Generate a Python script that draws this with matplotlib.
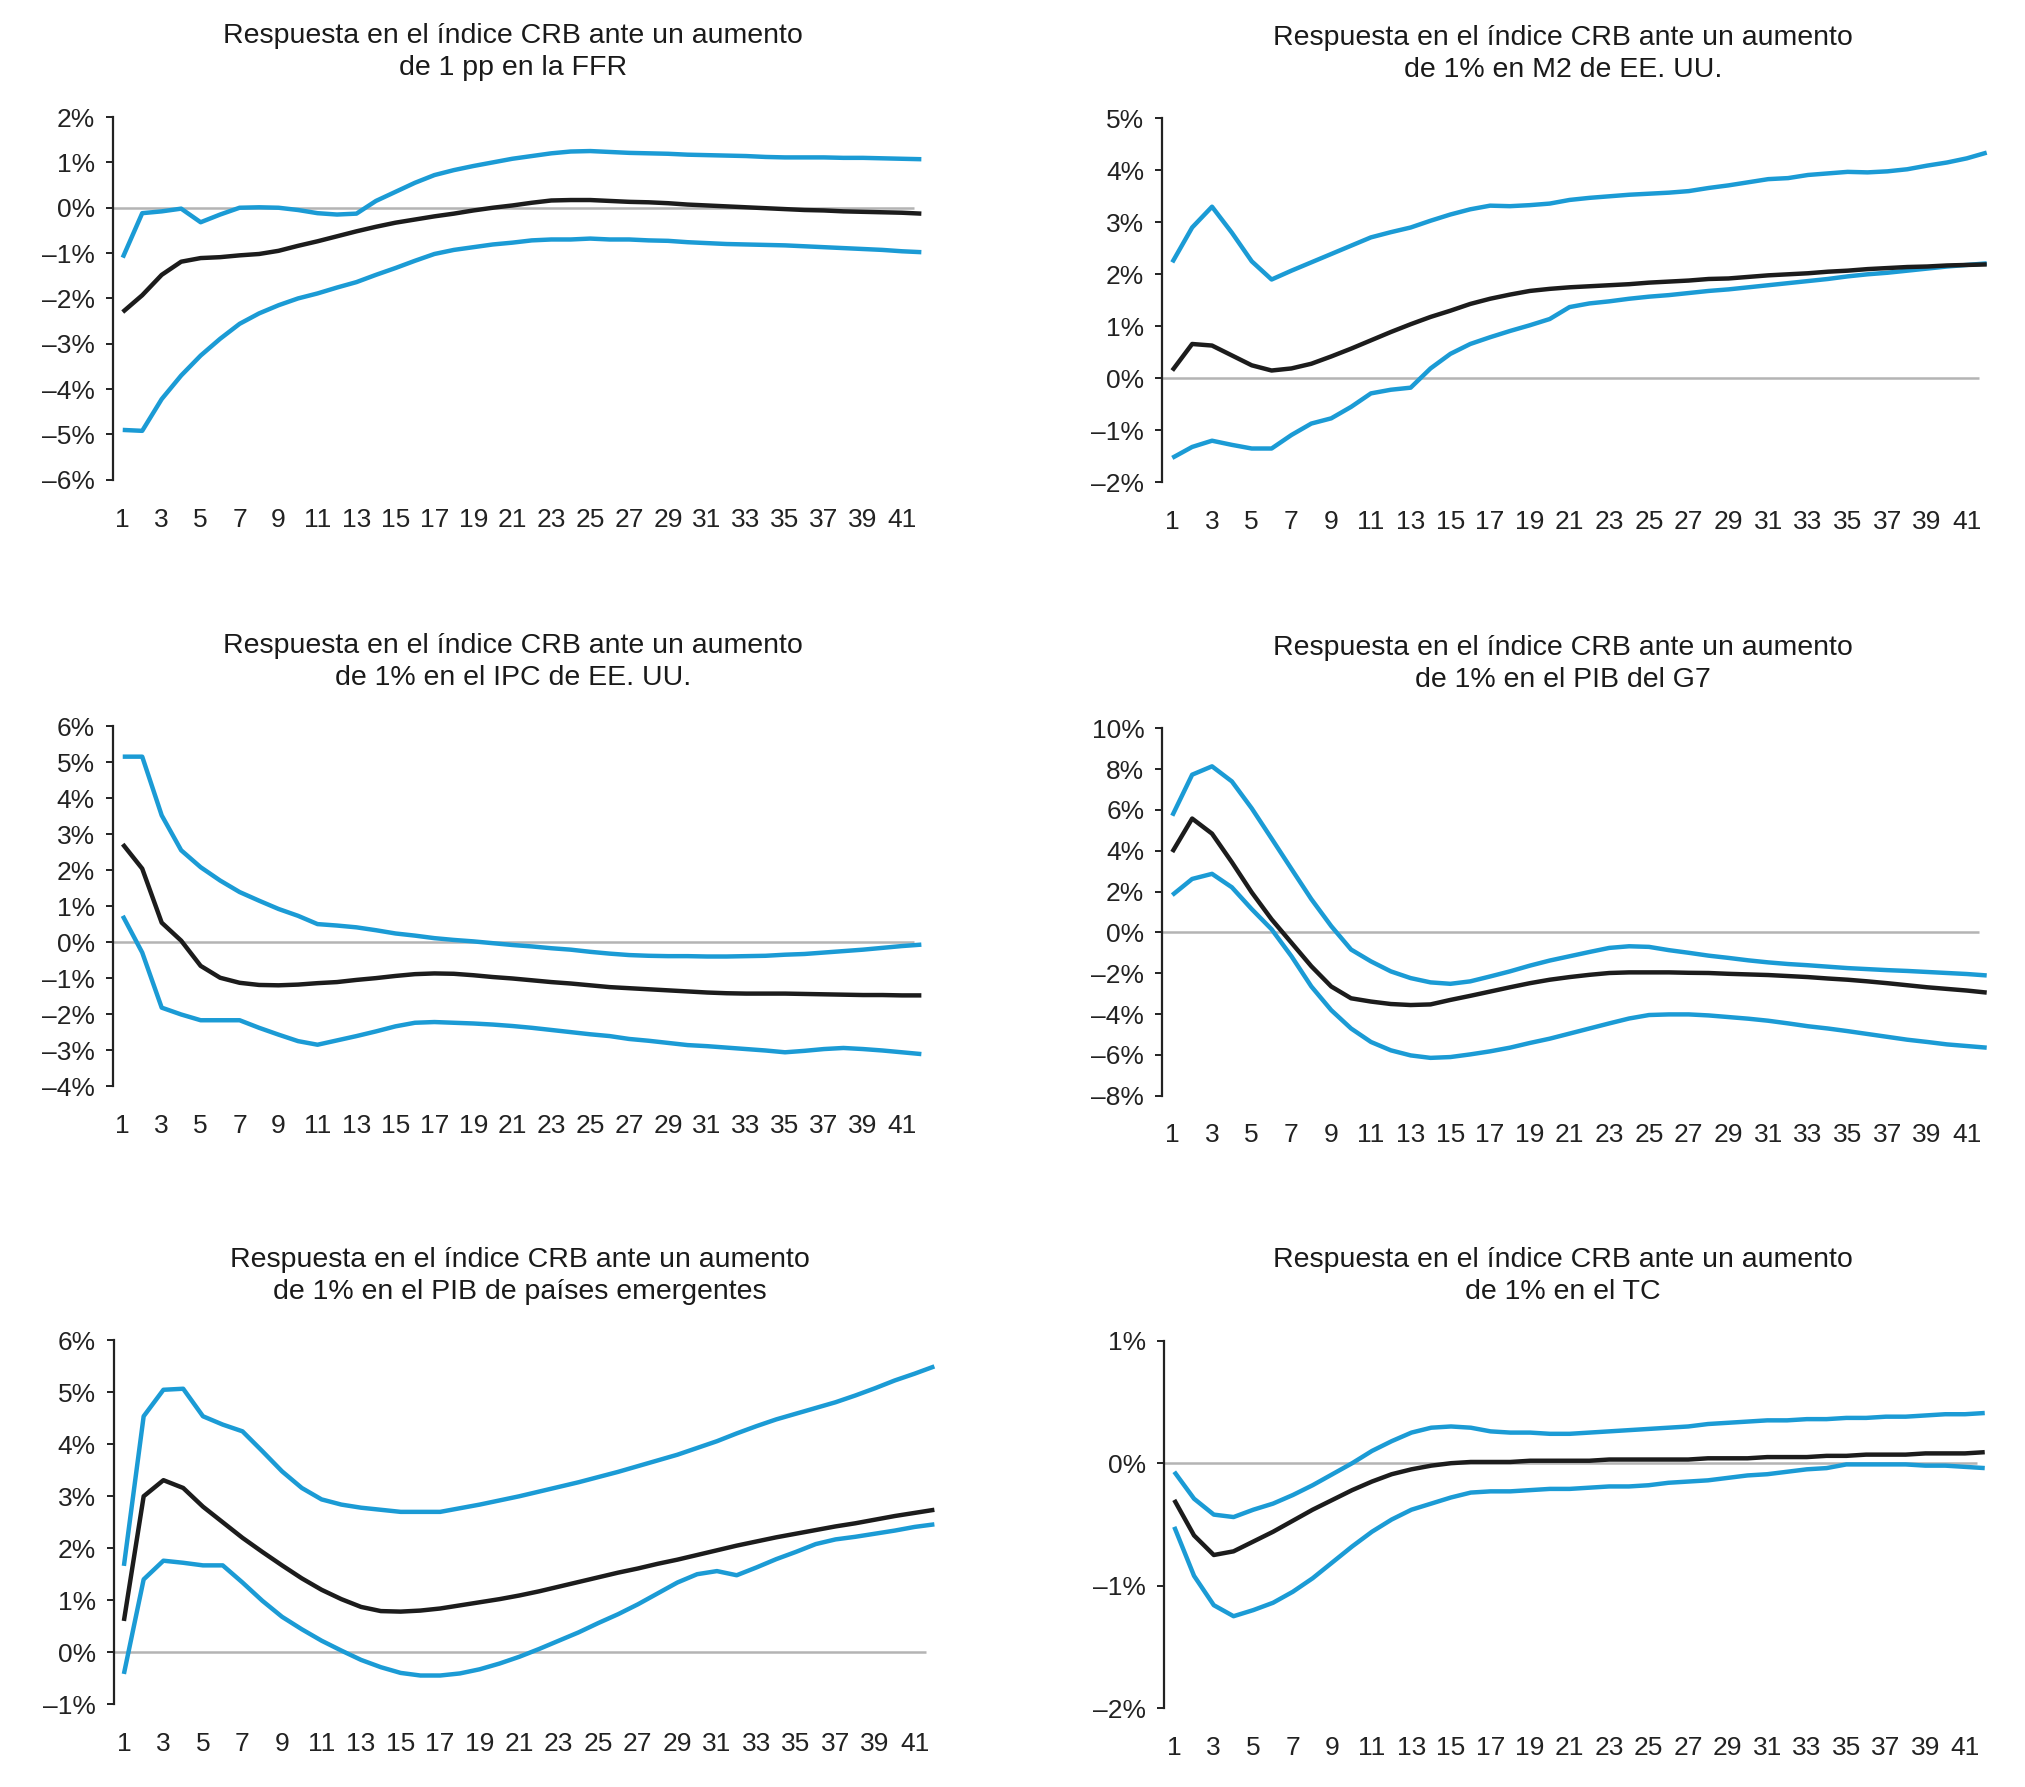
"""
Respuesta en el índice CRB: impulse responses with confidence bands (6 panels).
Output: out.png
"""
import matplotlib

matplotlib.use("agg")
import matplotlib.pyplot as plt  # noqa: E402
import numpy as np  # noqa: E402

plt.rcParams["font.family"] = ["Liberation Sans", "DejaVu Sans"]

BLUE = "#1b9bd5"
BLACK = "#1c1c1c"
GRAY = "#b4b4b4"

periods = list(range(1, 43))
xtick_pos = list(range(1, 42, 2))

titles = [
    "Respuesta en el índice CRB ante un aumento\nde 1 pp en la FFR",
    "Respuesta en el índice CRB ante un aumento\nde 1% en M2 de EE. UU.",
    "Respuesta en el índice CRB ante un aumento\nde 1% en el IPC de EE. UU.",
    "Respuesta en el índice CRB ante un aumento\nde 1% en el PIB del G7",
    "Respuesta en el índice CRB ante un aumento\nde 1% en el PIB de países emergentes",
    "Respuesta en el índice CRB ante un aumento\nde 1% en el TC",
]

# --- FFR
ffr_up = [-1.1, -0.12, -0.08, -0.02, -0.32, -0.15, 0.0, 0.01, 0.0, -0.05, -0.12, -0.15,
          -0.13, 0.15, 0.35, 0.55, 0.72, 0.83, 0.92, 1.0, 1.08, 1.14, 1.2, 1.24, 1.25, 1.23,
          1.21, 1.2, 1.19, 1.17, 1.16, 1.15, 1.14, 1.12, 1.11, 1.11, 1.11, 1.1, 1.1, 1.09,
          1.08, 1.07]
ffr_mid = [-2.3, -1.93, -1.48, -1.19, -1.11, -1.09, -1.05, -1.02, -0.95, -0.84, -0.74,
           -0.63, -0.52, -0.42, -0.33, -0.26, -0.19, -0.13, -0.06, 0.0, 0.05, 0.11, 0.16,
           0.17, 0.17, 0.15, 0.13, 0.12, 0.1, 0.07, 0.05, 0.03, 0.01, -0.01, -0.03, -0.05,
           -0.06, -0.08, -0.09, -0.1, -0.11, -0.13]
ffr_lo = [-4.9, -4.92, -4.22, -3.7, -3.26, -2.89, -2.56, -2.33, -2.15, -2.0, -1.89, -1.76,
          -1.64, -1.48, -1.33, -1.17, -1.02, -0.93, -0.87, -0.81, -0.77, -0.72, -0.7, -0.7,
          -0.68, -0.7, -0.7, -0.72, -0.73, -0.76, -0.78, -0.8, -0.81, -0.82, -0.83, -0.85,
          -0.87, -0.89, -0.91, -0.93, -0.96, -0.98]

# --- M2
m2_up = [2.23, 2.9, 3.3, 2.8, 2.25, 1.9, 2.07, 2.23, 2.39, 2.55, 2.71, 2.81, 2.9, 3.03,
         3.15, 3.25, 3.32, 3.31, 3.33, 3.36, 3.43, 3.47, 3.5, 3.53, 3.55, 3.57, 3.6, 3.66,
         3.71, 3.77, 3.83, 3.85, 3.91, 3.94, 3.97, 3.96, 3.98, 4.02, 4.09, 4.15, 4.23, 4.34]
m2_mid = [0.15, 0.66, 0.63, 0.44, 0.25, 0.15, 0.19, 0.28, 0.42, 0.57, 0.73, 0.89, 1.04,
          1.18, 1.3, 1.43, 1.53, 1.61, 1.68, 1.72, 1.75, 1.77, 1.79, 1.81, 1.84, 1.86, 1.88,
          1.91, 1.92, 1.95, 1.98, 2.0, 2.02, 2.05, 2.07, 2.1, 2.12, 2.14, 2.15, 2.17, 2.18,
          2.19]
m2_lo = [-1.53, -1.32, -1.2, -1.28, -1.35, -1.35, -1.09, -0.87, -0.77, -0.55, -0.29, -0.22,
         -0.18, 0.19, 0.47, 0.66, 0.79, 0.91, 1.02, 1.14, 1.37, 1.44, 1.48, 1.53, 1.57, 1.6,
         1.64, 1.68, 1.71, 1.75, 1.79, 1.83, 1.87, 1.91, 1.96, 2.0, 2.03, 2.07, 2.11, 2.15,
         2.18, 2.21]

# --- IPC
ipc_up = [5.16, 5.16, 3.53, 2.56, 2.09, 1.72, 1.4, 1.16, 0.93, 0.74, 0.51, 0.47, 0.42, 0.34,
          0.25, 0.19, 0.12, 0.07, 0.03, -0.02, -0.07, -0.11, -0.16, -0.2, -0.26, -0.31,
          -0.35, -0.37, -0.38, -0.38, -0.39, -0.39, -0.38, -0.37, -0.34, -0.32, -0.28, -0.24,
          -0.2, -0.15, -0.1, -0.06]
ipc_mid = [2.73, 2.05, 0.55, 0.05, -0.65, -0.98, -1.12, -1.18, -1.19, -1.17, -1.13, -1.1,
           -1.04, -0.99, -0.93, -0.88, -0.86, -0.87, -0.91, -0.96, -1.0, -1.05, -1.1, -1.14,
           -1.19, -1.24, -1.27, -1.3, -1.33, -1.36, -1.39, -1.41, -1.42, -1.42, -1.42, -1.43,
           -1.44, -1.45, -1.46, -1.46, -1.47, -1.47]
ipc_lo = [0.74, -0.28, -1.81, -2.0, -2.16, -2.16, -2.16, -2.37, -2.56, -2.74, -2.84, -2.72,
          -2.6, -2.47, -2.33, -2.23, -2.21, -2.23, -2.25, -2.28, -2.32, -2.37, -2.43, -2.49,
          -2.55, -2.6, -2.68, -2.73, -2.79, -2.85, -2.88, -2.92, -2.96, -3.0, -3.05, -3.01,
          -2.96, -2.93, -2.96, -3.0, -3.05, -3.1]

# --- PIB G7
g7_up = [5.72, 7.73, 8.14, 7.4, 6.08, 4.6, 3.11, 1.63, 0.31, -0.84, -1.42, -1.91, -2.24,
         -2.45, -2.52, -2.4, -2.16, -1.91, -1.63, -1.38, -1.17, -0.96, -0.76, -0.68, -0.71,
         -0.87, -1.0, -1.14, -1.25, -1.37, -1.47, -1.55, -1.61, -1.68, -1.75, -1.8, -1.85,
         -1.89, -1.94, -1.99, -2.04, -2.11]
g7_mid = [3.94, 5.58, 4.84, 3.44, 1.96, 0.64, -0.51, -1.66, -2.65, -3.23, -3.39, -3.51,
          -3.56, -3.53, -3.31, -3.11, -2.9, -2.69, -2.49, -2.32, -2.19, -2.08, -1.99, -1.96,
          -1.96, -1.96, -1.98, -1.99, -2.03, -2.06, -2.09, -2.14, -2.19, -2.26, -2.32, -2.4,
          -2.49, -2.59, -2.69, -2.77, -2.85, -2.95]
g7_lo = [1.83, 2.62, 2.87, 2.21, 1.14, 0.15, -1.17, -2.65, -3.81, -4.71, -5.37, -5.78,
         -6.03, -6.15, -6.11, -5.98, -5.83, -5.65, -5.42, -5.21, -4.96, -4.71, -4.46, -4.22,
         -4.05, -4.02, -4.02, -4.07, -4.15, -4.23, -4.33, -4.46, -4.6, -4.71, -4.84, -4.98,
         -5.12, -5.26, -5.37, -5.49, -5.57, -5.65]

# --- PIB emergentes
eme_up = [1.66, 4.54, 5.05, 5.07, 4.54, 4.38, 4.25, 3.87, 3.48, 3.16, 2.94, 2.84, 2.78,
          2.74, 2.7, 2.7, 2.7, 2.77, 2.84, 2.92, 3.0, 3.09, 3.18, 3.27, 3.37, 3.47, 3.58,
          3.69, 3.8, 3.93, 4.06, 4.21, 4.35, 4.48, 4.59, 4.7, 4.81, 4.94, 5.08, 5.23, 5.36,
          5.5]
eme_mid = [0.6, 3.0, 3.31, 3.16, 2.8, 2.5, 2.2, 1.93, 1.67, 1.42, 1.2, 1.02, 0.87, 0.79,
           0.78, 0.8, 0.84, 0.9, 0.96, 1.02, 1.09, 1.17, 1.26, 1.35, 1.44, 1.53, 1.61, 1.7,
           1.78, 1.87, 1.96, 2.05, 2.13, 2.21, 2.28, 2.35, 2.42, 2.48, 2.55, 2.62, 2.68, 2.74]
eme_lo = [-0.42, 1.4, 1.76, 1.72, 1.67, 1.67, 1.34, 0.99, 0.68, 0.44, 0.22, 0.03, -0.15,
          -0.29, -0.4, -0.45, -0.45, -0.41, -0.33, -0.22, -0.09, 0.06, 0.22, 0.38, 0.56,
          0.73, 0.92, 1.13, 1.34, 1.5, 1.56, 1.48, 1.63, 1.79, 1.93, 2.08, 2.17, 2.22, 2.28,
          2.34, 2.41, 2.46]

# --- TC
tc_up = [-0.07, -0.29, -0.42, -0.44, -0.38, -0.33, -0.26, -0.18, -0.09, 0.0, 0.1, 0.18,
         0.25, 0.29, 0.3, 0.29, 0.26, 0.25, 0.25, 0.24, 0.24, 0.25, 0.26, 0.27, 0.28, 0.29,
         0.3, 0.32, 0.33, 0.34, 0.35, 0.35, 0.36, 0.36, 0.37, 0.37, 0.38, 0.38, 0.39, 0.4,
         0.4, 0.41]
tc_mid = [-0.3, -0.59, -0.75, -0.72, -0.64, -0.56, -0.47, -0.38, -0.3, -0.22, -0.15, -0.09,
          -0.05, -0.02, 0.0, 0.01, 0.01, 0.01, 0.02, 0.02, 0.02, 0.02, 0.03, 0.03, 0.03, 0.03,
          0.03, 0.04, 0.04, 0.04, 0.05, 0.05, 0.05, 0.06, 0.06, 0.07, 0.07, 0.07, 0.08, 0.08,
          0.08, 0.09]
tc_lo = [-0.52, -0.92, -1.16, -1.25, -1.2, -1.14, -1.05, -0.94, -0.81, -0.68, -0.56, -0.46,
         -0.38, -0.33, -0.28, -0.24, -0.23, -0.23, -0.22, -0.21, -0.21, -0.2, -0.19, -0.19,
         -0.18, -0.16, -0.15, -0.14, -0.12, -0.1, -0.09, -0.07, -0.05, -0.04, -0.01, -0.01,
         -0.01, -0.01, -0.02, -0.02, -0.03, -0.04]

series = [
    (ffr_up, ffr_mid, ffr_lo),
    (m2_up, m2_mid, m2_lo),
    (ipc_up, ipc_mid, ipc_lo),
    (g7_up, g7_mid, g7_lo),
    (eme_up, eme_mid, eme_lo),
    (tc_up, tc_mid, tc_lo),
]
yticks = [
    list(range(-6, 3)),
    list(range(-2, 6)),
    list(range(-4, 7)),
    list(range(-8, 11, 2)),
    list(range(-1, 7)),
    list(range(-2, 2)),
]

# axes rectangles in figure fractions (left, bottom, width, height)
rects = [
    (0.0558, 0.7315, 0.404, 0.203),
    (0.574, 0.7301, 0.412, 0.2037),
    (0.0558, 0.392, 0.404, 0.2015),
    (0.574, 0.3869, 0.412, 0.2055),
    (0.0563, 0.0464, 0.410, 0.2035),
    (0.575, 0.0442, 0.410, 0.2055),
]
# horizontal title anchor (axes fraction): left column vs right column
title_x = [0.489, 0.48, 0.489, 0.48, 0.489, 0.48]


def pct(v):
    return f"{v}%" if v >= 0 else f"\u2013{abs(v)}%"


fig = plt.figure(figsize=(20.25, 17.87), dpi=100)
for rect, title, tx, (up, mid, lo), yt in zip(rects, titles, title_x, series, yticks):
    ax = fig.add_axes(rect)
    ax.hlines(0, 0.5, 41.6, color=GRAY, lw=1.8, zorder=1)
    ax.plot(periods, up, color=BLUE, lw=3.2, zorder=3, solid_capstyle="butt")
    ax.plot(periods, lo, color=BLUE, lw=3.2, zorder=3, solid_capstyle="butt")
    ax.plot(periods, mid, color=BLACK, lw=3.2, zorder=4, solid_capstyle="butt")

    ax.set_xlim(0.5, 42.5)
    ax.set_ylim(yt[0], yt[-1])
    ax.set_yticks(yt)
    ax.set_yticklabels([pct(v) for v in yt])
    ax.set_xticks(xtick_pos)
    ax.set_xticklabels([str(p) for p in xtick_pos])

    for side in ("top", "right", "bottom"):
        ax.spines[side].set_visible(False)
    ax.spines["left"].set_linewidth(1.6)
    ax.spines["left"].set_color("#222222")
    ax.tick_params(axis="y", length=5, width=1.4, pad=8, labelsize=19,
                   colors="#222222")
    ax.tick_params(axis="x", length=0, pad=20, labelsize=19, colors="#222222")
    for lab in ax.get_xticklabels() + ax.get_yticklabels():
        lab.set_fontfamily(["Liberation Sans Narrow", "Liberation Sans"])
    ax.set_title(title, x=tx, fontsize=20.5, color="#1a1a1a", pad=30, linespacing=1.3)

fig.savefig("out.png", dpi=100)
